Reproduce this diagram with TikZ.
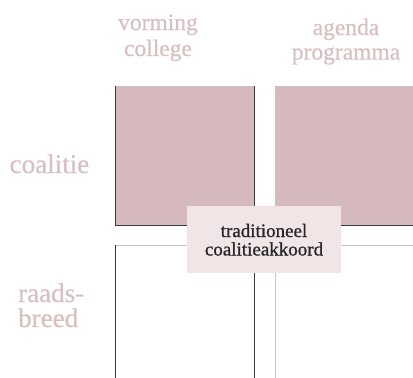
\documentclass[tikz,border=0pt]{standalone}
\usepackage{fontspec}
\setmainfont{Liberation Serif}
\newfontfamily\semibold[FakeBold=0.8]{Liberation Serif}
\newfontfamily\lightbold[FakeBold=0.5]{Liberation Serif}
\definecolor{boxpink}{HTML}{D5B9BD}
\definecolor{labelpink}{HTML}{F1E5E6}
\definecolor{headpink}{HTML}{D8BFC2}
\definecolor{darkedge}{HTML}{3A3A3A}
\definecolor{grayedge}{HTML}{C4C4C4}
\definecolor{labeltext}{HTML}{262626}
\tikzset{
  x=1pt,y=-1pt,
  head/.style={text=headpink,font=\lightbold\fontsize{23.5}{24}\selectfont,inner sep=0pt,anchor=base},
  side/.style={text=headpink,font=\lightbold\fontsize{27}{25}\selectfont,inner sep=0pt,anchor=base west},
  dark/.style={draw=darkedge,line width=0.9pt},
  light/.style={draw=grayedge,line width=0.9pt},
  labelbox/.style={fill=labelpink,inner sep=0pt,minimum width=154pt,minimum height=67pt},
  labeltxt/.style={text=labeltext,font=\semibold\fontsize{19}{18.5}\selectfont,inner sep=0pt,anchor=base}
}
\begin{document}
\begin{tikzpicture}
\useasboundingbox (0,0) rectangle (413,378);
% boxes
\fill[boxpink] (115,86) rectangle (254,225);
\fill[boxpink] (275,86) rectangle (420,225);
\coordinate (a1) at (115,86); \coordinate (a2) at (254,86);
\coordinate (a3) at (254,225); \coordinate (a4) at (115,225);
\draw[light] (a1) -- (a2);
\draw[dark] (a1) -- (a4) -- (a3) -- (a2);
\coordinate (b1) at (275,86); \coordinate (b2) at (420,86);
\coordinate (b3) at (420,225); \coordinate (b4) at (275,225);
\draw[light] (b4) -- (b1) -- (b2);
\draw[dark] (b4) -- (b3);
\coordinate (c1) at (115,245); \coordinate (c2) at (254,245);
\coordinate (c3) at (254,390); \coordinate (c4) at (115,390);
\draw[light] (c1) -- (c2);
\draw[dark] (c4) -- (c1);
\draw[dark] (c2) -- (c3);
\coordinate (d1) at (275,245); \coordinate (d2) at (420,245);
\coordinate (d4) at (275,390);
\draw[light] (d4) -- (d1) -- (d2);
% label
\node[labelbox] (lbl) at (264,239.5) {};
\node[labeltxt] (l1) at (264,237) {traditioneel};
\node[labeltxt] (l2) at (264,255.5) {coalitieakkoord};
% headers
\node[head] (h1) at (158,30) {vorming};
\node[head] (h2) at (158,56) {college};
\node[head] (h3) at (346,35) {agenda};
\node[head] (h4) at (346,59.5) {programma};
\node[side] (s1) at (9.5,173) {coalitie};
\node[side] (s2) at (18,302) {raads-};
\node[side] (s3) at (18,327) {breed};
\end{tikzpicture}
\end{document}
